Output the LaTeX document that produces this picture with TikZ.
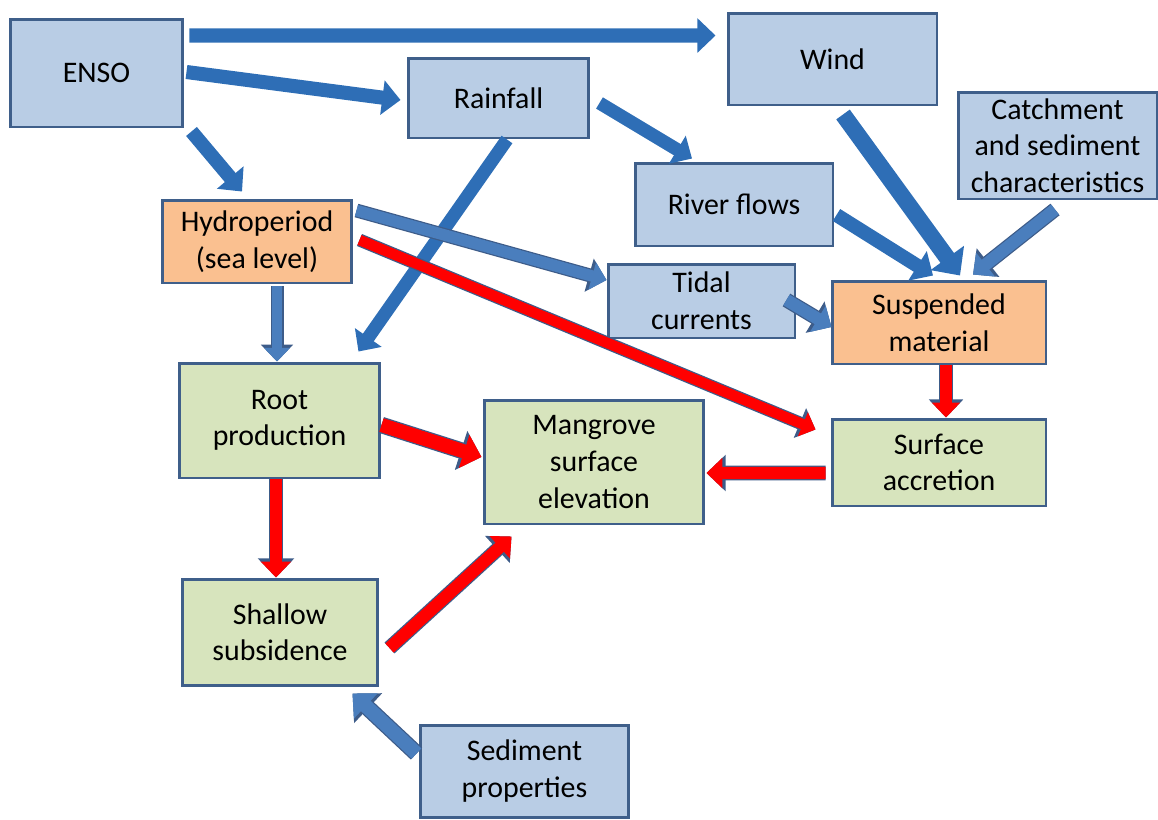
\documentclass[tikz,border=0pt]{standalone}
\usepackage{fontspec}
\setmainfont{Carlito}
\usetikzlibrary{arrows.meta}

\definecolor{boxblue}{HTML}{B9CDE5}
\definecolor{boxorange}{HTML}{FAC090}
\definecolor{boxgreen}{HTML}{D7E4BD}
\definecolor{boxedge}{HTML}{3F5F8A}
\definecolor{flowdark}{HTML}{2E6EB6}
\definecolor{flowlight}{HTML}{4A7EBD}
\definecolor{flowred}{HTML}{FF0000}
\definecolor{flowedge}{HTML}{3D5C89}

\begin{document}
\begin{tikzpicture}[
      x=0.02cm, y=-0.02cm,
      box/.style={rectangle, draw=boxedge, line width=1.7pt, align=center, inner sep=1pt,
                  font=\fontsize{17pt}{20.8pt}\selectfont},
      bluebox/.style={box, fill=boxblue},
      orangebox/.style={box, fill=boxorange},
      greenbox/.style={box, fill=boxgreen},
      flow/.style={line width=#1, -{Triangle[length=0pt 1.3, width=0pt 2.4]}},
      darkflow/.style={flow=#1, draw=flowdark},
      lightflow/.style={flow=#1, draw=flowlight, preaction={draw=flowedge, line width=#1+1.4pt}},
      redflow/.style={flow=#1, draw=flowred, preaction={draw=flowedge, line width=#1+1.4pt}}
  ]
      \useasboundingbox (0,0) rectangle (1158,819);

      % Driver nodes
      \node[bluebox, minimum width=3.46cm, minimum height=2.16cm] (enso) at (96.5,73) {ENSO};
      \node[bluebox, minimum width=4.18cm, minimum height=1.84cm] (wind) at (832.5,59) {Wind};
      \node[bluebox, minimum width=3.62cm, minimum height=1.60cm] (rain) at (498.5,98) {Rainfall};
      \node[bluebox, minimum width=3.98cm, minimum height=2.14cm] (catch) at (1057.5,145.5) {Catchment\\and sediment\\characteristics};
      \node[bluebox, minimum width=3.96cm, minimum height=1.66cm] (river) at (734,204.5) {River flows};
      \node[orangebox, minimum width=3.80cm, minimum height=1.66cm] (hydro) at (257,241.5) {Hydroperiod\\(sea level)};
      \node[bluebox, minimum width=3.74cm, minimum height=1.48cm] (tidal) at (701.5,301) {Tidal\\currents};
      \node[orangebox, minimum width=4.28cm, minimum height=1.66cm] (susp) at (939,322.5) {Suspended\\material};

      % Elevation nodes
      \node[greenbox, minimum width=4.02cm, minimum height=2.30cm] (root) at (279.5,420.5) {Root\\production};
      \node[greenbox, minimum width=4.40cm, minimum height=2.48cm] (elev) at (594,462) {Mangrove\\surface\\elevation};
      \node[greenbox, minimum width=4.28cm, minimum height=1.74cm] (accr) at (939,462.5) {Surface\\accretion};
      \node[greenbox, minimum width=3.92cm, minimum height=2.12cm] (subs) at (280,632) {Shallow\\subsidence};
      \node[bluebox, minimum width=4.18cm, minimum height=1.84cm] (sedi) at (524.5,771) {Sediment\\properties};

      % ENSO arrows
      \draw[darkflow=8pt] ([shift={(5,18)}]enso.north east) -- ([shift={(-11,24)}]wind.north west);
      \draw[darkflow=8pt] ([shift={(2,-1)}]enso.east) -- ([shift={(-6,2)}]rain.west);
      \draw[darkflow=8pt] ([shift={(7,3)}]enso.south east) -- ([shift={(-15,-7)}]hydro.north);

      % Rainfall arrows
      \draw[darkflow=7.5pt] ([shift={(9,5)}]rain.east) -- ([shift={(-42,-3)}]river.north);
      \draw[darkflow=7.5pt] ([shift={(8.5,0)}]rain.south) -- ([shift={(-23,-10)}]root.north east);

      % Suspended material arrows
      \draw[darkflow=9.5pt] ([shift={(10.5,8)}]wind.south) -- ([shift={(21,-4)}]susp.north);
      \draw[darkflow=8pt] ([shift={(2,10.5)}]river.east) -- ([shift={(-6,-4)}]susp.north);
      \draw[lightflow=7pt] ([shift={(-2.5,9)}]catch.south) -- ([shift={(34,-5)}]susp.north);
      \draw[lightflow=6.5pt] ([shift={(3,12)}]hydro.north east) -- ([shift={(0,-21)}]tidal.west);
      \draw[lightflow=7pt] ([shift={(-10,-1)}]tidal.east) -- ([shift={(1,4.5)}]susp.west);
      \draw[lightflow=6pt] ([shift={(20,2)}]hydro.south) -- ([shift={(-2.5,0)}]root.north);

      % Red arrows
      \draw[redflow=6pt] ([shift={(6,-1.5)}]hydro.east) -- ([shift={(-15,12)}]accr.north west);
      \draw[redflow=6.5pt] ([shift={(7,0)}]susp.south) -- ([shift={(7,0)}]accr.north);
      \draw[redflow=7pt] ([shift={(-5,10.5)}]accr.west) -- ([shift={(1,11)}]elev.east);
      \draw[redflow=8pt] ([shift={(0,4.5)}]root.east) -- ([shift={(-1,-5)}]elev.west);
      \draw[redflow=7pt] ([shift={(-3.5,0)}]root.south) -- ([shift={(-4,0)}]subs.north);
      \draw[redflow=7pt] ([shift={(10,16)}]subs.east) -- ([shift={(29,11)}]elev.south west);

      % Sediment arrow
      \draw[lightflow=8pt] ([shift={(-2,30)}]sedi.north west) -- ([shift={(-27,7)}]subs.south east);
  \end{tikzpicture}
\end{document}
